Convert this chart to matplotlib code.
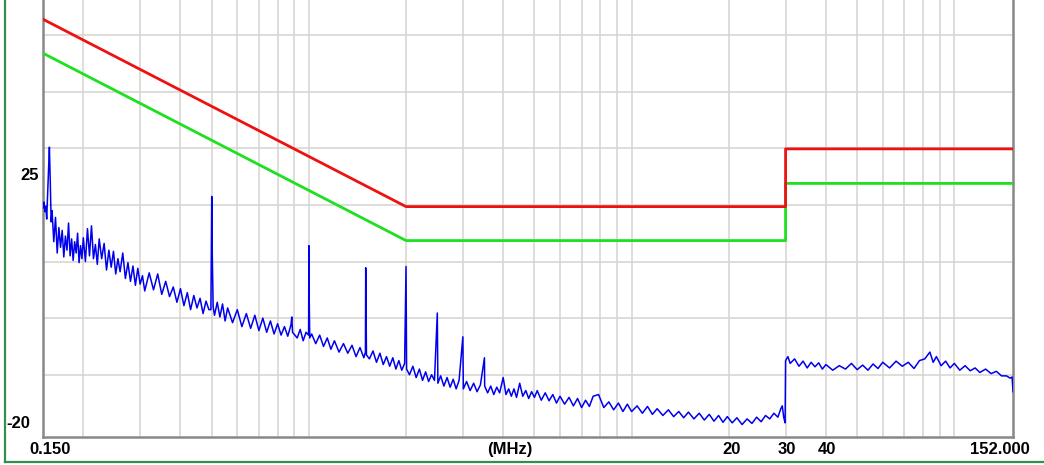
import numpy as np
import matplotlib
matplotlib.use("Agg")
import matplotlib.pyplot as plt
from matplotlib.lines import Line2D

# limit lines (MHz, dB)
lim_f = [0.15, 2.0, 30.0, 30.0, 152.0]
red_lvl = [52.8, 19.7, 19.7, 29.9, 29.9]
green_lvl = [46.8, 13.7, 13.7, 23.8, 23.8]

trace_f = [
    0.150, 0.151, 0.152, 0.153, 0.154, 0.155, 0.156, 0.157, 0.158, 0.159,
    0.160, 0.162, 0.164, 0.166, 0.168, 0.170, 0.172, 0.174, 0.176, 0.178,
    0.180, 0.182, 0.184, 0.186, 0.188, 0.190, 0.192, 0.194, 0.196, 0.198,
    0.200, 0.203, 0.206, 0.209, 0.212, 0.215, 0.218, 0.221, 0.224, 0.228,
    0.232, 0.236, 0.240, 0.244, 0.248, 0.252, 0.256, 0.260, 0.265, 0.270,
    0.275, 0.280, 0.285, 0.290, 0.295, 0.300, 0.305, 0.31, 0.32, 0.33,
    0.34, 0.35, 0.36, 0.37, 0.38, 0.39, 0.40, 0.41, 0.42, 0.43,
    0.44, 0.45, 0.46, 0.47, 0.48, 0.49, 0.497, 0.500, 0.502, 0.505,
    0.51, 0.52, 0.53, 0.54, 0.55, 0.56, 0.58, 0.60, 0.62, 0.64,
    0.66, 0.68, 0.70, 0.72, 0.74, 0.76, 0.78, 0.80, 0.82, 0.84,
    0.86, 0.88, 0.885, 0.89, 0.92, 0.94, 0.96, 0.98, 0.998, 1.000,
    1.002, 1.006, 1.02, 1.05, 1.08, 1.11, 1.14, 1.17, 1.20, 1.24,
    1.28, 1.32, 1.36, 1.40, 1.44, 1.48, 1.497, 1.500, 1.503, 1.508,
    1.54, 1.58, 1.62, 1.66, 1.70, 1.74, 1.78, 1.82, 1.86, 1.90,
    1.94, 1.98, 2.000, 2.003, 2.008, 2.05, 2.10, 2.15, 2.20, 2.25,
    2.30, 2.35, 2.40, 2.45, 2.500, 2.505, 2.51, 2.56, 2.62, 2.68,
    2.74, 2.80, 2.86, 2.92, 3.000, 3.005, 3.01, 3.08, 3.16, 3.24,
    3.32, 3.40, 3.500, 3.505, 3.58, 3.66, 3.74, 3.82, 3.90, 4.00,
    4.08, 4.16, 4.24, 4.32, 4.40, 4.50, 4.6, 4.7, 4.8, 4.9,
    5.0, 5.1, 5.25, 5.4, 5.55, 5.7, 5.85, 6.0, 6.2, 6.4,
    6.6, 6.8, 7.0, 7.2, 7.4, 7.6, 7.9, 8.2, 8.5, 8.8,
    9.1, 9.4, 9.7, 10.0, 10.4, 10.8, 11.2, 11.6, 12.0, 12.5,
    13.0, 13.5, 14.0, 14.5, 15.0, 15.6, 16.2, 16.8, 17.4, 18.0,
    18.6, 19.2, 19.8, 20.5, 21.2, 22.0, 22.8, 23.6, 24.4, 25.2,
    26.0, 26.8, 27.6, 28.4, 29.0, 29.3, 29.6, 29.9, 30.0, 30.5,
    31, 32, 33, 34, 35, 36, 37, 38, 39, 40,
    42, 44, 46, 48, 50, 52, 54, 56, 58, 60,
    63, 66, 69, 72, 75, 78, 81, 84, 86, 88,
    91, 94, 97, 100, 104, 108, 112, 116, 120, 125,
    130, 135, 140, 145, 149, 151, 152,
]
trace_lvl = [
    19.5, 20.5, 18.8, 19.8, 17.5, 22.0, 26.0, 30.2, 24.0, 17.0,
    19.0, 13.5, 17.8, 11.5, 16.0, 12.5, 15.5, 10.8, 14.5, 12.0,
    16.8, 11.0, 14.0, 10.2, 13.5, 11.5, 15.0, 9.8, 12.8, 10.5,
    14.2, 10.0, 15.8, 11.0, 16.3, 10.5, 13.0, 9.5, 14.0, 10.5,
    13.2, 8.5, 12.0, 9.0, 11.8, 7.8, 10.5, 8.2, 11.5, 7.0,
    9.8, 6.5, 9.2, 5.8, 8.8, 6.0, 7.5, 4.8, 8.0, 5.0,
    7.8, 4.2, 6.5, 3.8, 5.5, 2.8, 5.2, 2.2, 4.5, 1.5,
    4.0, 1.8, 3.5, 0.8, 3.0, 1.5, 1.5, 21.5, 11.0, 2.0,
    0.5, 2.8, 0.2, 2.5, -0.5, 1.8, -0.8, 1.5, -1.5, 0.8,
    -1.8, 0.5, -2.2, 0.0, -2.5, -0.5, -2.8, -1.0, -3.0, -1.5,
    -3.2, -1.2, 0.2, -2.5, -3.5, -2.0, -4.0, -2.5, -3.0, 12.8,
    4.0, -3.5, -2.8, -4.5, -3.0, -5.0, -3.5, -5.5, -4.0, -6.0,
    -4.5, -6.2, -4.8, -6.8, -5.2, -7.0, -6.0, 8.9, 3.0, -6.5,
    -7.2, -5.8, -7.8, -6.2, -8.2, -6.8, -8.5, -7.0, -9.0, -7.5,
    -9.2, -8.0, 9.1, 1.5, -9.0, -10.0, -8.5, -10.5, -9.0, -11.0,
    -9.5, -11.2, -10.0, -11.0, 0.9, -6.0, -11.5, -10.2, -12.0, -10.5,
    -12.2, -10.8, -12.5, -11.0, -3.3, -8.0, -12.5, -11.2, -12.8, -11.5,
    -13.0, -11.8, -7.0, -12.0, -13.2, -12.0, -13.5, -12.2, -13.2, -10.5,
    -13.5, -12.5, -13.8, -12.5, -14.0, -11.5, -13.8, -12.8, -14.2, -13.0,
    -14.0, -12.8, -14.5, -13.2, -14.6, -13.5, -15.0, -13.8, -15.2, -14.0,
    -15.5, -14.2, -15.8, -14.5, -15.6, -13.8, -13.5, -15.8, -14.8, -16.2,
    -15.0, -16.5, -15.2, -16.5, -15.5, -16.8, -15.6, -17.0, -16.0, -17.2,
    -16.2, -17.4, -16.5, -17.6, -16.6, -17.8, -16.8, -18.0, -17.0, -18.2,
    -17.2, -18.4, -17.4, -18.5, -17.6, -18.8, -17.8, -18.6, -17.5, -18.3,
    -17.2, -17.8, -16.8, -17.5, -16.0, -15.5, -17.5, -18.5, -7.5, -6.8,
    -8.0, -7.2, -8.5, -7.6, -8.8, -7.8, -8.6, -7.9, -9.0, -8.2,
    -9.2, -8.4, -9.0, -8.0, -9.1, -8.3, -9.2, -8.1, -8.9, -7.8,
    -8.8, -7.6, -8.5, -7.8, -8.9, -7.5, -7.2, -6.0, -7.8, -6.8,
    -8.4, -7.6, -8.8, -8.0, -9.2, -8.4, -9.3, -8.8, -9.6, -9.0,
    -9.8, -9.4, -10.2, -10.2, -10.6, -10.4, -13.0,
]

grid_f = [m * 10.0 ** d for d in (-1, 0, 1, 2) for m in range(1, 10)]
grid_f = [g for g in grid_f if 0.15 < g < 152]
grid_lvl = [-10, 0, 10, 20, 30, 40, 50]

W, H = 1044, 465
fig = plt.figure(figsize=(W / 100, H / 100), dpi=100)
ax = fig.add_axes([43 / W, (H - 437) / H, (1013 - 43) / W, 437 / H])

ax.plot(trace_f, trace_lvl, color="#0000EE", lw=1.1, zorder=3)
ax.plot(lim_f, green_lvl, color="#1EE01E", lw=2.0, zorder=4)
ax.plot(lim_f, red_lvl, color="#EE1111", lw=2.0, zorder=5)

ax.set_xscale("log")
ax.set_xlim(0.15, 152)
ax.set_ylim(-21, 56.2)
ax.set_xticks(grid_f)
ax.set_xticks([], minor=True)
ax.set_yticks(grid_lvl)
ax.tick_params(length=0, labelbottom=False, labelleft=False)
ax.grid(True, color="#D6D3CE", lw=1.1)
ax.set_axisbelow(True)

for s in ("left", "bottom", "right"):
    ax.spines[s].set_color("#888888")
    ax.spines[s].set_linewidth(1.8)
ax.spines["top"].set_visible(False)

font = dict(family="Liberation Sans", weight="bold", size=12, color="black")
ly = 1 - 449 / H
fig.text(50 / W, ly, "0.150", ha="center", va="center", **font)
fig.text(510 / W, ly, "(MHz)", ha="center", va="center", **font)
fig.text(732 / W, ly, "20", ha="center", va="center", **font)
fig.text(787 / W, ly, "30", ha="center", va="center", **font)
fig.text(827 / W, ly, "40", ha="center", va="center", **font)
fig.text(1000 / W, ly, "152.000", ha="center", va="center", **font)
fig.text(39 / W, 1 - 175 / H, "25", ha="right", va="center", **font)
fig.text(30 / W, 1 - 423 / H, "-20", ha="right", va="center", **font)

# green frame round the plot
fig.add_artist(Line2D([5 / W, 5 / W], [1 - 462 / H, 1], color="#2E9150", lw=1.6))
fig.add_artist(Line2D([5 / W, 1], [1 - 462 / H, 1 - 462 / H], color="#2E9150", lw=1.6))

fig.savefig("out.png", dpi=100)
